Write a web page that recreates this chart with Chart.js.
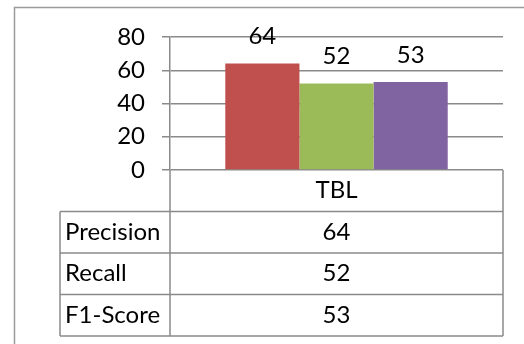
<!DOCTYPE html>
<html>
<head>
<meta charset="utf-8">
<script src="https://cdn.jsdelivr.net/npm/chart.js@4/dist/chart.umd.min.js"></script>
<style>
  html, body { margin: 0; padding: 0; background: #fff; }
  #wrap { width: 524px; height: 344px; }
</style>
</head>
<body>
<div id="wrap"><canvas id="chart" width="524" height="344"></canvas></div>
<script>
// chart data
var categories = ['TBL'];
var seriesNames = ['Precision', 'Recall', 'F1-Score'];
var seriesValues = [64, 52, 53];
var seriesColors = ['#C0504D', '#9BBB59', '#8064A2'];
var yTicks = [0, 20, 40, 60, 80];

var fontFamily = 'Lato, "Open Sans", sans-serif';
var fontSize = 24;
var lineColor = '#8a8a8a';

var datasets = seriesNames.map(function(name, i) {
    return {
        label: name,
        data: [seriesValues[i]],
        backgroundColor: seriesColors[i],
        borderWidth: 0,
        categoryPercentage: 0.668,
        barPercentage: 1
    };
});

// outer frame of the chart object
var framePlugin = {
    id: 'frame',
    beforeDraw: function(chart) {
        var ctx = chart.ctx;
        ctx.save();
        ctx.fillStyle = '#fff';
        ctx.fillRect(0, 0, chart.width, chart.height);
        ctx.strokeStyle = '#9a9a9a';
        ctx.lineWidth = 1.5;
        ctx.beginPath();
        ctx.moveTo(14.5, chart.height);
        ctx.lineTo(14.5, 7.5);
        ctx.lineTo(chart.width, 7.5);
        ctx.stroke();
        ctx.restore();
    }
};

// value labels above each bar
var valueLabelPlugin = {
    id: 'valueLabels',
    afterDatasetsDraw: function(chart) {
        var ctx = chart.ctx;
        ctx.save();
        ctx.font = fontSize + 'px ' + fontFamily;
        ctx.fillStyle = '#000';
        ctx.textAlign = 'center';
        ctx.textBaseline = 'middle';
        chart.data.datasets.forEach(function(ds, i) {
            var bar = chart.getDatasetMeta(i).data[0];
            ctx.fillText(String(ds.data[0]), bar.x, bar.y - 27);
        });
        ctx.restore();
    }
};

// data table under the plot (like Excel's data table)
var dataTablePlugin = {
    id: 'dataTable',
    afterDraw: function(chart) {
        var ctx = chart.ctx;
        var area = chart.chartArea;
        var xScale = chart.scales.x;
        var top = area.bottom;
        var bottom = xScale.bottom;
        var rows = seriesNames.length + 1;
        var rowH = (bottom - top) / rows;
        var labelLeft = area.left - 110;

        ctx.save();
        ctx.strokeStyle = lineColor;
        ctx.lineWidth = 1.5;
        ctx.beginPath();
        // horizontal lines
        for (var r = 1; r <= rows; r++) {
            var y = top + rowH * r;
            ctx.moveTo(r === 0 ? area.left : labelLeft, y);
            ctx.lineTo(area.right, y);
        }
        // verticals
        ctx.moveTo(labelLeft, top + rowH);
        ctx.lineTo(labelLeft, bottom);
        ctx.moveTo(area.left, top);
        ctx.lineTo(area.left, bottom);
        ctx.moveTo(area.right, top);
        ctx.lineTo(area.right, bottom);
        ctx.stroke();

        ctx.font = fontSize + 'px ' + fontFamily;
        ctx.fillStyle = '#000';
        ctx.textBaseline = 'middle';
        var midX = (area.left + area.right) / 2;
        ctx.textAlign = 'center';
        ctx.fillText(categories[0], midX, top + rowH / 2);
        seriesNames.forEach(function(name, i) {
            var cy = top + rowH * (i + 1.5);
            ctx.textAlign = 'left';
            ctx.fillText(name, labelLeft + 5, cy);
            ctx.textAlign = 'center';
            ctx.fillText(String(seriesValues[i]), midX, cy);
        });
        ctx.restore();
    }
};

var config = {
    type: 'bar',
    data: { labels: categories, datasets: datasets },
    options: {
        responsive: false,
        animation: false,
        layout: { padding: { top: 37, right: 21, bottom: 8, left: 0 } },
        plugins: {
            legend: { display: false },
            tooltip: { enabled: false },
            title: { display: false }
        },
        scales: {
            x: {
                grid: { display: false },
                border: { display: false },
                ticks: { display: false },
                afterFit: function(scale) { scale.height = 166; }
            },
            y: {
                min: yTicks[0],
                max: yTicks[yTicks.length - 1],
                ticks: {
                    stepSize: yTicks[1] - yTicks[0],
                    padding: 17,
                    color: '#000',
                    font: { family: fontFamily, size: fontSize }
                },
                grid: { color: lineColor, lineWidth: 1.5, tickLength: 8 },
                border: { color: lineColor, width: 1.5 },
                afterFit: function(scale) { scale.width = 170; }
            }
        }
    },
    plugins: [framePlugin, valueLabelPlugin, dataTablePlugin]
};

var ctx = document.getElementById('chart').getContext('2d');
window.resultsChart = new Chart(ctx, config);
</script>
</body>
</html>
